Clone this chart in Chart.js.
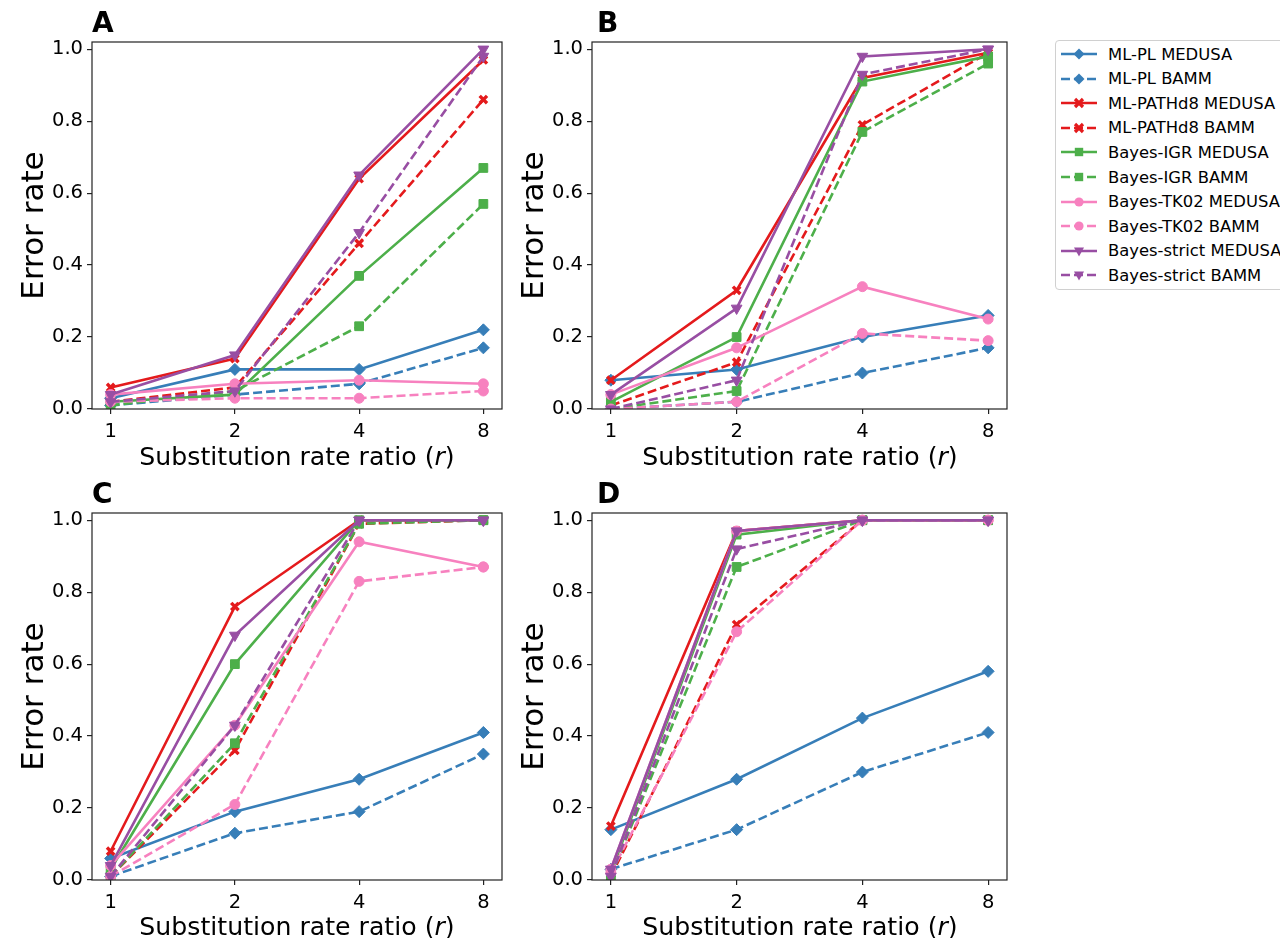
<!DOCTYPE html>
<html><head><meta charset="utf-8">
<script src="https://cdn.jsdelivr.net/npm/chart.js@4.4.0/dist/chart.umd.min.js"></script>
<style>
html,body{margin:0;padding:0}
body{width:1280px;height:938px;overflow:hidden;background:#fff;font-family:"DejaVu Sans",sans-serif;position:relative}
.pane{position:absolute}
.letter{position:absolute;font-weight:bold;font-size:28px;line-height:28px;color:#000}
.xt{position:absolute;font-size:25.2px;line-height:26px;color:#000;white-space:nowrap;transform:translateX(-50%)}
#legend{position:absolute;left:1055px;top:40px;width:260px;height:250px;border:1px solid #d0d0d0;border-radius:4px;box-sizing:border-box}
.li{position:absolute;left:4px;height:24px;display:flex;align-items:center;font-size:16.4px;color:#000;white-space:nowrap}
.li svg{margin-right:10px}
</style></head><body>

<canvas id="cA" class="pane" style="left:0;top:0" width="520" height="470"></canvas>
<canvas id="cB" class="pane" style="left:500px;top:0" width="520" height="470"></canvas>
<canvas id="cC" class="pane" style="left:0;top:470px" width="520" height="468"></canvas>
<canvas id="cD" class="pane" style="left:500px;top:470px" width="520" height="468"></canvas>

<div class="letter" style="left:92px;top:9px">A</div>
<div class="letter" style="left:597px;top:9px">B</div>
<div class="letter" style="left:92px;top:480px">C</div>
<div class="letter" style="left:597px;top:480px">D</div>

<div class="xt" style="left:297px;top:444px">Substitution rate ratio (<i>r</i>)</div>
<div class="xt" style="left:800px;top:444px">Substitution rate ratio (<i>r</i>)</div>
<div class="xt" style="left:297px;top:914px">Substitution rate ratio (<i>r</i>)</div>
<div class="xt" style="left:800px;top:914px">Substitution rate ratio (<i>r</i>)</div>

<div id="legend"></div>

<script>
// ---- data ----
const xLabels = ['1', '2', '4', '8'];
const yTickValues = [0, 0.2, 0.4, 0.6, 0.8, 1.0];
const seriesNames = ['ML-PL MEDUSA', 'ML-PL BAMM', 'ML-PATHd8 MEDUSA', 'ML-PATHd8 BAMM',
  'Bayes-IGR MEDUSA', 'Bayes-IGR BAMM', 'Bayes-TK02 MEDUSA', 'Bayes-TK02 BAMM',
  'Bayes-strict MEDUSA', 'Bayes-strict BAMM'];

// Panel A
const A_mlplMedusa   = [0.03, 0.11, 0.11, 0.22];
const A_mlplBamm     = [0.01, 0.04, 0.07, 0.17];
const A_pathd8Medusa = [0.06, 0.14, 0.64, 0.97];
const A_pathd8Bamm   = [0.02, 0.06, 0.46, 0.86];
const A_igrMedusa    = [0.02, 0.04, 0.37, 0.67];
const A_igrBamm      = [0.01, 0.05, 0.23, 0.57];
const A_tk02Medusa   = [0.04, 0.07, 0.08, 0.07];
const A_tk02Bamm     = [0.02, 0.03, 0.03, 0.05];
const A_strictMedusa = [0.04, 0.15, 0.65, 1.00];
const A_strictBamm   = [0.02, 0.05, 0.49, 0.98];
// Panel B
const B_mlplMedusa   = [0.08, 0.11, 0.20, 0.26];
const B_mlplBamm     = [0.00, 0.02, 0.10, 0.17];
const B_pathd8Medusa = [0.08, 0.33, 0.92, 0.99];
const B_pathd8Bamm   = [0.01, 0.13, 0.79, 0.99];
const B_igrMedusa    = [0.02, 0.20, 0.91, 0.98];
const B_igrBamm      = [0.00, 0.05, 0.77, 0.96];
const B_tk02Medusa   = [0.04, 0.17, 0.34, 0.25];
const B_tk02Bamm     = [0.00, 0.02, 0.21, 0.19];
const B_strictMedusa = [0.04, 0.28, 0.98, 1.00];
const B_strictBamm   = [0.00, 0.08, 0.93, 1.00];
// Panel C
const C_mlplMedusa   = [0.06, 0.19, 0.28, 0.41];
const C_mlplBamm     = [0.01, 0.13, 0.19, 0.35];
const C_pathd8Medusa = [0.08, 0.76, 1.00, 1.00];
const C_pathd8Bamm   = [0.01, 0.36, 0.99, 1.00];
const C_igrMedusa    = [0.03, 0.60, 1.00, 1.00];
const C_igrBamm      = [0.01, 0.38, 0.99, 1.00];
const C_tk02Medusa   = [0.04, 0.43, 0.94, 0.87];
const C_tk02Bamm     = [0.01, 0.21, 0.83, 0.87];
const C_strictMedusa = [0.04, 0.68, 1.00, 1.00];
const C_strictBamm   = [0.01, 0.43, 1.00, 1.00];
// Panel D
const D_mlplMedusa   = [0.14, 0.28, 0.45, 0.58];
const D_mlplBamm     = [0.03, 0.14, 0.30, 0.41];
const D_pathd8Medusa = [0.15, 0.97, 1.00, 1.00];
const D_pathd8Bamm   = [0.01, 0.71, 1.00, 1.00];
const D_igrMedusa    = [0.02, 0.96, 1.00, 1.00];
const D_igrBamm      = [0.01, 0.87, 1.00, 1.00];
const D_tk02Medusa   = [0.03, 0.97, 1.00, 1.00];
const D_tk02Bamm     = [0.02, 0.69, 1.00, 1.00];
const D_strictMedusa = [0.03, 0.97, 1.00, 1.00];
const D_strictBamm   = [0.01, 0.92, 1.00, 1.00];

// ---- styles ----
const BLUE = '#377eb8', RED = '#e41a1c', GREEN = '#4daf4a', PINK = '#f781bf', PURPLE = '#984ea3';
const styles = [
  {c: BLUE,   dash: false, ps: 'rectRot',  r: 6,   rot: 0,   bw: 1},
  {c: BLUE,   dash: true,  ps: 'rectRot',  r: 6,   rot: 0,   bw: 1},
  {c: RED,    dash: false, ps: 'crossRot', r: 5.2, rot: 0,   bw: 3.4},
  {c: RED,    dash: true,  ps: 'crossRot', r: 5.2, rot: 0,   bw: 3.4},
  {c: GREEN,  dash: false, ps: 'rect',     r: 6.2, rot: 0,   bw: 1},
  {c: GREEN,  dash: true,  ps: 'rect',     r: 6.2, rot: 0,   bw: 1},
  {c: PINK,   dash: false, ps: 'circle',   r: 5,   rot: 0,   bw: 1},
  {c: PINK,   dash: true,  ps: 'circle',   r: 5,   rot: 0,   bw: 1},
  {c: PURPLE, dash: false, ps: 'triangle', r: 6.2, rot: 180, bw: 1},
  {c: PURPLE, dash: true,  ps: 'triangle', r: 6.2, rot: 180, bw: 1}
];
const DASH = [9, 4];

const framePlugin = {
  id: 'frame',
  afterDatasetsDraw(chart) {
    const a = chart.chartArea, ctx = chart.ctx;
    ctx.save();
    ctx.strokeStyle = '#222';
    ctx.lineWidth = 1.2;
    ctx.strokeRect(a.left, a.top, a.right - a.left, a.bottom - a.top);
    ctx.restore();
  }
};

function makePanel(id, seriesArrays, area, canvasH) {
  const datasets = seriesArrays.map((arr, i) => {
    const s = styles[i];
    return {
      label: seriesNames[i],
      data: arr.map((v, k) => ({x: k, y: v})),
      borderColor: s.c,
      backgroundColor: s.c,
      borderWidth: 2.6,
      borderDash: s.dash ? DASH : [],
      pointStyle: s.ps,
      pointRadius: s.r,
      pointRotation: s.rot,
      pointBackgroundColor: s.c,
      pointBorderColor: s.c,
      pointBorderWidth: s.bw,
      tension: 0,
      order: 10 - i,
      clip: 0
    };
  });
  new Chart(document.getElementById(id), {
    type: 'line',
    data: {datasets},
    plugins: [framePlugin],
    options: {
      responsive: false,
      animation: false,
      events: [],
      layout: {padding: {left: 0, top: area.top, right: 520 - area.right, bottom: 0}},
      plugins: {legend: {display: false}, tooltip: {enabled: false}},
      scales: {
        x: {
          type: 'linear', min: -0.15, max: 3.15,
          afterBuildTicks(sc) { sc.ticks = xLabels.map((l, k) => ({value: k})); },
          afterFit(sc) { sc.height = canvasH - area.bottom; },
          ticks: {callback: (v) => xLabels[v], font: {family: 'DejaVu Sans', size: 19.5}, color: '#000', padding: 6, maxRotation: 0},
          grid: {display: true, drawOnChartArea: false, drawTicks: true, tickLength: 5, color: '#222', lineWidth: 1.2},
          border: {display: false}
        },
        y: {
          type: 'linear', min: 0, max: 1.02,
          afterBuildTicks(sc) { sc.ticks = yTickValues.map(v => ({value: v})); },
          afterFit(sc) { sc.width = area.left; },
          ticks: {callback: (v) => Number(v).toFixed(1), font: {family: 'DejaVu Sans', size: 19.5}, color: '#000', padding: 4},
          grid: {display: true, drawOnChartArea: false, drawTicks: true, tickLength: 5, color: '#222', lineWidth: 1.2},
          border: {display: false},
          title: {display: true, text: 'Error rate', font: {family: 'DejaVu Sans', size: 31}, color: '#000', padding: {top: 16, bottom: 0}}
        }
      }
    }
  });
}

makePanel('cA', [A_mlplMedusa, A_mlplBamm, A_pathd8Medusa, A_pathd8Bamm, A_igrMedusa, A_igrBamm, A_tk02Medusa, A_tk02Bamm, A_strictMedusa, A_strictBamm],
  {left: 92, right: 502, top: 42, bottom: 409}, 470);
makePanel('cB', [B_mlplMedusa, B_mlplBamm, B_pathd8Medusa, B_pathd8Bamm, B_igrMedusa, B_igrBamm, B_tk02Medusa, B_tk02Bamm, B_strictMedusa, B_strictBamm],
  {left: 92, right: 507, top: 42, bottom: 409}, 470);
makePanel('cC', [C_mlplMedusa, C_mlplBamm, C_pathd8Medusa, C_pathd8Bamm, C_igrMedusa, C_igrBamm, C_tk02Medusa, C_tk02Bamm, C_strictMedusa, C_strictBamm],
  {left: 92, right: 502, top: 43, bottom: 410}, 468);
makePanel('cD', [D_mlplMedusa, D_mlplBamm, D_pathd8Medusa, D_pathd8Bamm, D_igrMedusa, D_igrBamm, D_tk02Medusa, D_tk02Bamm, D_strictMedusa, D_strictBamm],
  {left: 92, right: 507, top: 43, bottom: 410}, 468);

// ---- legend (HTML) ----
function markerSvg(s) {
  const cx = 19, cy = 12;
  let m = '';
  if (s.ps === 'rectRot') m = `<polygon points="${cx},${cy-5.5} ${cx+5.5},${cy} ${cx},${cy+5.5} ${cx-5.5},${cy}" fill="${s.c}"/>`;
  else if (s.ps === 'crossRot') m = `<path d="M${cx-4},${cy-4}L${cx+4},${cy+4}M${cx+4},${cy-4}L${cx-4},${cy+4}" stroke="${s.c}" stroke-width="3.2"/>`;
  else if (s.ps === 'rect') m = `<rect x="${cx-4.2}" y="${cy-4.2}" width="8.4" height="8.4" fill="${s.c}"/>`;
  else if (s.ps === 'circle') m = `<circle cx="${cx}" cy="${cy}" r="4.6" fill="${s.c}"/>`;
  else m = `<polygon points="${cx-5},${cy-3.5} ${cx+5},${cy-3.5} ${cx},${cy+5.5}" fill="${s.c}"/>`;
  const line = `<line x1="1" y1="${cy}" x2="37" y2="${cy}" stroke="${s.c}" stroke-width="2.6" ${s.dash ? 'stroke-dasharray="9 4"' : ''}/>`;
  return `<svg width="38" height="24" viewBox="0 0 38 24">${line}${m}</svg>`;
}
const lg = document.getElementById('legend');
seriesNames.forEach((n, i) => {
  const d = document.createElement('div');
  d.className = 'li';
  d.style.top = (1 + i * 24.6) + 'px';
  d.innerHTML = markerSvg(styles[i]) + '<span>' + n + '</span>';
  lg.appendChild(d);
});
</script>
</body></html>
